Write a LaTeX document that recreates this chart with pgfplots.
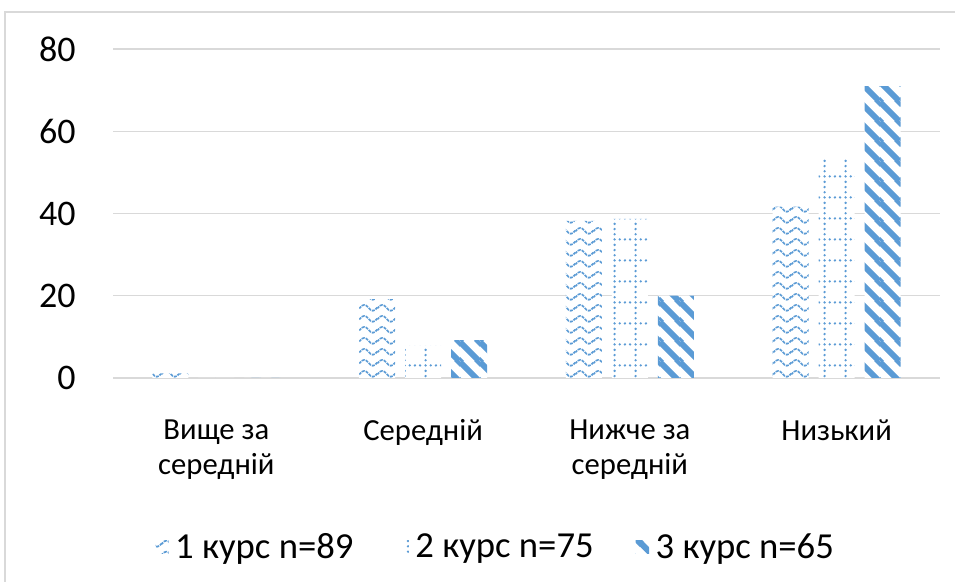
\documentclass[border=0pt]{standalone}
\usepackage{fontspec}
\setmainfont{Carlito}
\usepackage{pgfplots}
\pgfplotsset{compat=1.18}
\usetikzlibrary{patterns.meta}
\definecolor{cbar}{HTML}{5B9BD5}
\definecolor{cgrid}{HTML}{D9D9D9}

\tikzdeclarepattern{
  name=wideNW,
  type=uncolored,
  bounding box={(0pt,0pt) and (15pt,15pt)},
  tile size={(15pt,15pt)},
  code={
    \draw[line width=4.6pt] (-7.5pt,7.5pt) -- (7.5pt,-7.5pt) (0pt,15pt) -- (15pt,0pt) (7.5pt,22.5pt) -- (22.5pt,7.5pt);
  }
}
\tikzdeclarepattern{
  name=dotgrid,
  type=uncolored,
  bounding box={(0pt,0pt) and (16pt,16pt)},
  tile size={(16pt,16pt)},
  code={
    \fill (2pt,2pt) circle (1pt) (6pt,2pt) circle (1pt) (10pt,2pt) circle (1pt) (14pt,2pt) circle (1pt)
          (2pt,6pt) circle (1pt) (2pt,10pt) circle (1pt) (2pt,14pt) circle (1pt);
  }
}
\tikzdeclarepattern{
  name=waves,
  type=uncolored,
  bounding box={(0pt,0pt) and (13.5pt,8pt)},
  tile size={(13.5pt,8pt)},
  code={
    \draw[line width=1.3pt, dash pattern=on 2.4pt off 0.8pt] (-1pt,3.5pt) -- (0pt,4pt) .. controls (2.25pt,7pt) and (4.5pt,7pt) .. (6.75pt,4pt) .. controls (9pt,1pt) and (11.25pt,1pt) .. (13.5pt,4pt) -- (14.5pt,4.5pt);
  }
}

\begin{document}
\begin{tikzpicture}
\useasboundingbox (0,0) rectangle (716.25pt,435.75pt);
\draw[cgrid, line width=1.2pt] (3.75pt,-2pt) -- (3.75pt,426.75pt) -- (720pt,426.75pt);
\begin{axis}[
  at={(84.75pt,152.25pt)}, anchor=south west,
  scale only axis, width=620.25pt, height=246.75pt,
  ybar=7.5pt, bar width=27pt,
  xmin=-0.5, xmax=3.5, ymin=0, ymax=80,
  xtick={0,1,2,3},
  xticklabels={{Вище за\\середній},{Середній},{Нижче за\\середній},{Низький}},
  ytick={0,20,40,60,80},
  ymajorgrids, major grid style={draw=cgrid, line width=1.1pt},
  axis line style={draw=none},
  major tick length=0pt,
  /pgf/number format/assume math mode=true,
  yticklabel style={anchor=east, inner sep=0pt, xshift=-27.75pt, font=\fontsize{27}{32}\selectfont},
  xticklabel style={anchor=north, inner sep=0pt, yshift=-31pt, align=center, font=\fontsize{23}{26.5}\selectfont},
  legend columns=3,
  legend style={at={(0.463,-0.514)}, anchor=center, draw=none, fill=none,
    font=\fontsize{27.5}{32}\selectfont,
    /tikz/every odd column/.append style={column sep=3pt},
    /tikz/every even column/.append style={column sep=29.5pt}},
  legend image code/.code={\fill[#1] (0pt,-5pt) rectangle (10pt,5pt);},
]
\addplot[draw=none, fill=white, postaction={pattern=waves, pattern color=cbar}] coordinates {(0,1.1) (1,19.2) (2,38.2) (3,41.7)};
\addplot[draw=none, fill=white, postaction={pattern=dotgrid, pattern color=cbar}] coordinates {(0,0) (1,7.8) (2,38.7) (3,53.5)};
\addplot[draw=none, fill=white, postaction={pattern=wideNW, pattern color=cbar}] coordinates {(0,0) (1,9.2) (2,20) (3,71)};
\legend{1 курс n=89, 2 курс n=75, 3 курс n=65}
\end{axis}
\end{tikzpicture}
\end{document}
